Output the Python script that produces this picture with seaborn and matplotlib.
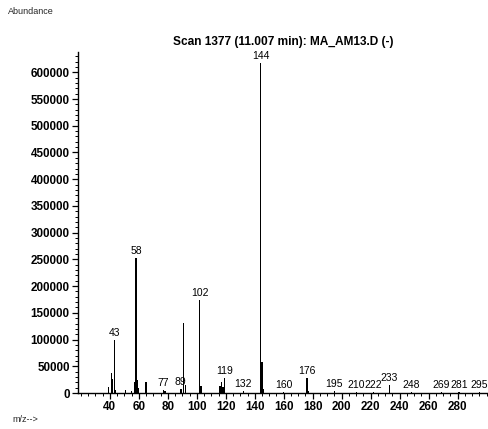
import matplotlib
matplotlib.use("Agg")
import matplotlib.pyplot as plt
import seaborn as sns
import pandas as pd
from matplotlib.ticker import MultipleLocator

# ---- data ----
mz = [39, 41, 42, 43, 44, 51, 55, 57, 58, 59, 60, 65, 77, 78, 89, 91, 92,
      102, 103, 116, 117, 118, 119, 132, 144, 145, 146, 160, 176, 177,
      195, 210, 222, 233, 248, 269, 281, 295]
abundance = [11000, 37000, 26000, 99000, 6000, 5000, 4000, 20000, 253000, 24000,
             10000, 21000, 5000, 3000, 7000, 131000, 15000,
             174000, 13000, 13000, 20000, 12000, 28000, 4000, 618000, 58000, 8000,
             2000, 28000, 4000, 3000, 2000, 2000, 15000, 2000, 1500, 1500, 1500]
labelled = [43, 58, 77, 89, 102, 119, 132, 144, 160, 176, 195, 210, 222, 233,
            248, 269, 281, 295]
title = "Scan 1377 (11.007 min): MA_AM13.D (-)"
x_ticks = [40, 60, 80, 100, 120, 140, 160, 180, 200, 220, 240, 260, 280]
y_ticks = [0, 50000, 100000, 150000, 200000, 250000, 300000, 350000, 400000,
           450000, 500000, 550000, 600000]

df = pd.DataFrame({"mz": mz, "abundance": abundance})

sns.set_theme(style="ticks")
plt.rcParams["font.family"] = ["Liberation Sans", "DejaVu Sans"]

fig = plt.figure(figsize=(4.89, 4.29), dpi=100)
ax = fig.add_axes([78 / 489, 36 / 429, 410 / 489, 341 / 429])

sns.barplot(data=df, x="mz", y="abundance", native_scale=True, orient="x",
            color="black", width=0.9, linewidth=0, saturation=1, ax=ax,
            errorbar=None)

ax.set_xlim(18, 301)
ax.set_ylim(0, 638000)
ax.set_xticks(x_ticks)
ax.set_yticks(y_ticks)
ax.set_xticklabels([str(t) for t in x_ticks], fontweight="bold", fontsize=8.4)
ax.set_yticklabels([str(t) for t in y_ticks], fontweight="bold", fontsize=8.4)
ax.xaxis.set_minor_locator(MultipleLocator(5))
ax.yaxis.set_minor_locator(MultipleLocator(10000))
ax.tick_params(axis="both", which="major", length=4, width=0.9, color="black",
               pad=2, labelcolor="black")
ax.tick_params(axis="both", which="minor", length=2, width=0.7, color="black")
ax.set_xlabel("")
ax.set_ylabel("")
sns.despine(ax=ax)
for s in ["left", "bottom"]:
    ax.spines[s].set_color("black")
    ax.spines[s].set_linewidth(1.0)

lookup = dict(zip(mz, abundance))
for m in labelled:
    ax.annotate(str(m), (m, lookup[m]), xytext=(0, 1.5), textcoords="offset points",
                ha="center", va="bottom", fontsize=7.5, color="black")

ax.set_title(title, fontweight="bold", fontsize=8.6, pad=5, color="black")
fig.text(8 / 489, 1 - 12 / 429, "Abundance", fontsize=6.5, va="center", ha="left")
fig.text(12 / 489, 1 - 419 / 429, "m/z-->", fontsize=6.5, va="center", ha="left")

fig.savefig("out.png", dpi=100)
